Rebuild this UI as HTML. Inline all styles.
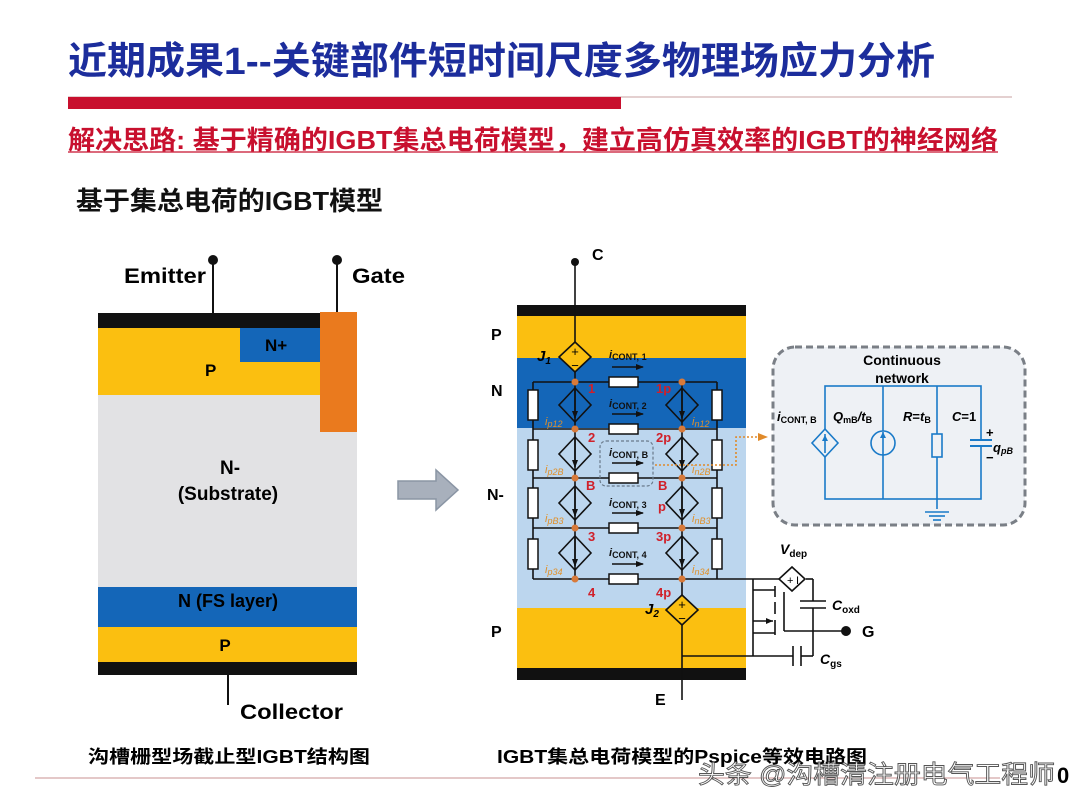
<!DOCTYPE html>
<html><head><meta charset="utf-8"><style>
html,body{margin:0;padding:0;background:#fff;}
svg{display:block;font-family:"Liberation Sans","Noto Sans CJK SC",sans-serif;}
</style></head><body>
<svg width="1080" height="810" viewBox="0 0 1080 810" xmlns="http://www.w3.org/2000/svg">
<defs>
<marker id="ar" markerUnits="userSpaceOnUse" markerWidth="8" markerHeight="8" refX="7" refY="4" orient="auto"><path d="M0,1 L8,4 L0,7 z" fill="#111"/></marker>
<marker id="aro" markerUnits="userSpaceOnUse" markerWidth="10" markerHeight="10" refX="8" refY="5" orient="auto"><path d="M0,1 L10,5 L0,9 z" fill="#e08a2a"/></marker>
</defs>
<!-- title -->
<text x="68" y="74" font-size="38" font-weight="bold" fill="#1c2d9c" textLength="867" lengthAdjust="spacingAndGlyphs">近期成果1--关键部件短时间尺度多物理场应力分析</text>
<line x1="68" y1="97" x2="1012" y2="97" stroke="#c8a0a0" stroke-width="1"/>
<rect x="68" y="97" width="553" height="12" fill="#c8102e"/>
<text x="68" y="149" font-size="26" font-weight="bold" fill="#c8102e" textLength="930" lengthAdjust="spacingAndGlyphs">解决思路: 基于精确的IGBT集总电荷模型，建立高仿真效率的IGBT的神经网络</text>
<line x1="68" y1="152" x2="998" y2="152" stroke="#c8102e" stroke-width="1.2"/>
<text x="76" y="210" font-size="26" font-weight="bold" fill="#111" textLength="307" lengthAdjust="spacingAndGlyphs">基于集总电荷的IGBT模型</text>

<!-- left structure -->
<rect x="98" y="313" width="259" height="15" fill="#111"/>
<rect x="98" y="328" width="259" height="67" fill="#fbbf10"/>
<rect x="240" y="328" width="80" height="34" fill="#1466b8"/>
<rect x="98" y="395" width="259" height="192" fill="#e2e2e4"/>
<rect x="98" y="587" width="259" height="40" fill="#1466b8"/>
<rect x="98" y="627" width="259" height="35" fill="#fbbf10"/>
<rect x="98" y="662" width="259" height="13" fill="#111"/>
<rect x="320" y="312" width="37" height="120" fill="#ea7a1e"/>
<line x1="213" y1="260" x2="213" y2="313" stroke="#111" stroke-width="2"/><circle cx="213" cy="260" r="5" fill="#111"/>
<line x1="337" y1="260" x2="337" y2="312" stroke="#111" stroke-width="2"/><circle cx="337" cy="260" r="5" fill="#111"/>
<line x1="228" y1="675" x2="228" y2="705" stroke="#111" stroke-width="2"/>
<text x="124" y="283" font-size="21" font-weight="bold" textLength="82" lengthAdjust="spacingAndGlyphs">Emitter</text>
<text x="352" y="283" font-size="21" font-weight="bold" textLength="53" lengthAdjust="spacingAndGlyphs">Gate</text>
<text x="265" y="351" font-size="17" font-weight="bold">N+</text>
<text x="205" y="376" font-size="17" font-weight="bold">P</text>
<text x="230" y="474" font-size="19" font-weight="bold" text-anchor="middle">N-</text>
<text x="228" y="500" font-size="19" font-weight="bold" text-anchor="middle">(Substrate)</text>
<text x="228" y="607" font-size="18" font-weight="bold" text-anchor="middle">N (FS layer)</text>
<text x="225" y="651" font-size="17" font-weight="bold" text-anchor="middle">P</text>
<text x="240" y="719" font-size="21" font-weight="bold" textLength="103" lengthAdjust="spacingAndGlyphs">Collector</text>

<!-- arrow -->
<path d="M398,481 L436,481 L436,470 L458,490 L436,510 L436,499 L398,499 z" fill="#a8b0bc" stroke="#8a95a4" stroke-width="1.5"/>

<!-- right structure -->
<rect x="517" y="305" width="229" height="11" fill="#111"/>
<rect x="517" y="316" width="229" height="42" fill="#fbbf10"/>
<rect x="517" y="358" width="229" height="70" fill="#1466b8"/>
<rect x="517" y="428" width="229" height="180" fill="#bcd6ee"/>
<rect x="517" y="608" width="229" height="60" fill="#fbbf10"/>
<rect x="517" y="668" width="229" height="12" fill="#111"/>
<text x="491" y="340" font-size="16" font-weight="bold">P</text>
<text x="491" y="396" font-size="16" font-weight="bold">N</text>
<text x="487" y="500" font-size="16" font-weight="bold">N-</text>
<text x="491" y="637" font-size="16" font-weight="bold">P</text>
<text x="592" y="260" font-size="16" font-weight="bold">C</text>
<text x="655" y="705" font-size="16" font-weight="bold">E</text>
<circle cx="575" cy="262" r="4" fill="#111"/>
<g stroke="#111" stroke-width="1.6" fill="none">
<line x1="575" y1="262" x2="575" y2="342"/>
<line x1="682" y1="625" x2="682" y2="700"/>
<line x1="533" y1="382" x2="717" y2="382"/>
<line x1="533" y1="429" x2="717" y2="429"/>
<line x1="533" y1="478" x2="717" y2="478"/>
<line x1="533" y1="528" x2="717" y2="528"/>
<line x1="533" y1="579" x2="717" y2="579"/>
<line x1="533" y1="382" x2="533" y2="579"/>
<line x1="717" y1="382" x2="717" y2="579"/>
<line x1="575" y1="372" x2="575" y2="579"/>
<line x1="682" y1="382" x2="682" y2="595"/>
</g>
<g fill="#fff" stroke="#111" stroke-width="1.5">
<rect x="528" y="390" width="10" height="30"/><rect x="712" y="390" width="10" height="30"/>
<rect x="528" y="440" width="10" height="30"/><rect x="712" y="440" width="10" height="30"/>
<rect x="528" y="488" width="10" height="30"/><rect x="712" y="488" width="10" height="30"/>
<rect x="528" y="539" width="10" height="30"/><rect x="712" y="539" width="10" height="30"/>
<rect x="609" y="377" width="29" height="10"/><rect x="609" y="424" width="29" height="10"/>
<rect x="609" y="473" width="29" height="10"/><rect x="609" y="523" width="29" height="10"/>
<rect x="609" y="574" width="29" height="10"/>
</g>
<g fill="none" stroke="#111" stroke-width="1.6">
<path d="M575,388 L591,405 L575,422 L559,405 z"/><path d="M682,388 L698,405 L682,422 L666,405 z"/>
<path d="M575,437 L591,454 L575,471 L559,454 z"/><path d="M682,437 L698,454 L682,471 L666,454 z"/>
<path d="M575,486 L591,503 L575,520 L559,503 z"/><path d="M682,486 L698,503 L682,520 L666,503 z"/>
<path d="M575,536 L591,553 L575,570 L559,553 z"/><path d="M682,536 L698,553 L682,570 L666,553 z"/>
</g>
<g stroke="#111" stroke-width="1.6" marker-end="url(#ar)">
<line x1="575" y1="390" x2="575" y2="418"/><line x1="682" y1="390" x2="682" y2="418"/>
<line x1="575" y1="439" x2="575" y2="467"/><line x1="682" y1="439" x2="682" y2="467"/>
<line x1="575" y1="488" x2="575" y2="516"/><line x1="682" y1="488" x2="682" y2="516"/>
<line x1="575" y1="538" x2="575" y2="566"/><line x1="682" y1="538" x2="682" y2="566"/>
<line x1="612" y1="367" x2="643" y2="367"/><line x1="612" y1="414" x2="643" y2="414"/>
<line x1="612" y1="463" x2="643" y2="463"/><line x1="612" y1="513" x2="643" y2="513"/>
<line x1="612" y1="564" x2="643" y2="564"/>
</g>
<path d="M575,342 L591,357 L575,372 L559,357 z" fill="#fbbf10" stroke="#111" stroke-width="1.6"/>
<text x="575" y="356" font-size="13" text-anchor="middle">+</text><text x="575" y="370" font-size="13" text-anchor="middle">−</text>
<path d="M682,595 L698,610 L682,625 L666,610 z" fill="#fbbf10" stroke="#111" stroke-width="1.6"/>
<text x="682" y="609" font-size="13" text-anchor="middle">+</text><text x="682" y="623" font-size="13" text-anchor="middle">−</text>
<text x="537" y="361" font-size="15" font-weight="bold" font-style="italic">J<tspan font-size="10" dy="3">1</tspan></text>
<text x="645" y="614" font-size="15" font-weight="bold" font-style="italic">J<tspan font-size="10" dy="3">2</tspan></text>
<g fill="#d87a3a">
<circle cx="575" cy="382" r="3.5"/><circle cx="682" cy="382" r="3.5"/>
<circle cx="575" cy="429" r="3.5"/><circle cx="682" cy="429" r="3.5"/>
<circle cx="575" cy="478" r="3.5"/><circle cx="682" cy="478" r="3.5"/>
<circle cx="575" cy="528" r="3.5"/><circle cx="682" cy="528" r="3.5"/>
<circle cx="575" cy="579" r="3.5"/><circle cx="682" cy="579" r="3.5"/>
</g>
<g fill="#d0202a" font-size="13" font-weight="bold">
<text x="588" y="393">1</text><text x="656" y="393">1p</text>
<text x="588" y="442">2</text><text x="656" y="442">2p</text>
<text x="586" y="490">B</text><text x="658" y="490">B</text>
<text x="658" y="511">p</text>
<text x="588" y="541">3</text><text x="656" y="541">3p</text>
<text x="588" y="597">4</text><text x="656" y="597">4p</text>
</g>
<g fill="#e0902a" font-size="11" font-style="italic">
<text x="545" y="425">i<tspan font-size="9" dy="2">p12</tspan></text><text x="692" y="425">i<tspan font-size="9" dy="2">n12</tspan></text>
<text x="545" y="473">i<tspan font-size="9" dy="2">p2B</tspan></text><text x="692" y="473">i<tspan font-size="9" dy="2">n2B</tspan></text>
<text x="545" y="522">i<tspan font-size="9" dy="2">pB3</tspan></text><text x="692" y="522">i<tspan font-size="9" dy="2">nB3</tspan></text>
<text x="545" y="573">i<tspan font-size="9" dy="2">p34</tspan></text><text x="692" y="573">i<tspan font-size="9" dy="2">n34</tspan></text>
</g>
<g font-size="11" font-weight="bold" fill="#111">
<text x="609" y="358"><tspan font-style="italic">i</tspan><tspan font-size="9" dy="2">CONT, 1</tspan></text>
<text x="609" y="407"><tspan font-style="italic">i</tspan><tspan font-size="9" dy="2">CONT, 2</tspan></text>
<text x="609" y="456"><tspan font-style="italic">i</tspan><tspan font-size="9" dy="2">CONT, B</tspan></text>
<text x="609" y="506"><tspan font-style="italic">i</tspan><tspan font-size="9" dy="2">CONT, 3</tspan></text>
<text x="609" y="556"><tspan font-style="italic">i</tspan><tspan font-size="9" dy="2">CONT, 4</tspan></text>
</g>
<rect x="600" y="441" width="53" height="45" rx="6" fill="none" stroke="#6a7a8a" stroke-width="1.2" stroke-dasharray="3,2"/>
<path d="M655,465 L736,465 L736,437 L766,437" fill="none" stroke="#e08a2a" stroke-width="1.6" stroke-dasharray="2,2" marker-end="url(#aro)"/>

<!-- continuous network box -->
<rect x="773" y="347" width="252" height="178" rx="22" fill="#eef1f5" stroke="#7a7f86" stroke-width="3" stroke-dasharray="7,4"/>
<text x="902" y="365" font-size="14" font-weight="bold" text-anchor="middle">Continuous</text>
<text x="902" y="383" font-size="14" font-weight="bold" text-anchor="middle">network</text>
<g stroke="#1a7ac8" stroke-width="1.6" fill="none">
<rect x="825" y="386" width="156" height="113"/>
<line x1="883" y1="386" x2="883" y2="499"/>
<line x1="937" y1="386" x2="937" y2="509"/>
<path d="M825,429 L838,443 L825,457 L812,443 z" fill="#eef1f5"/>
<line x1="825" y1="453" x2="825" y2="434"/>
<circle cx="883" cy="443" r="12" fill="#eef1f5"/>
<line x1="883" y1="455" x2="883" y2="432"/>
<rect x="932" y="434" width="10" height="23" fill="#eef1f5"/>
<line x1="970" y1="440" x2="992" y2="440" stroke-width="2"/>
<line x1="970" y1="446" x2="992" y2="446" stroke-width="2"/>
<rect x="973" y="441" width="16" height="4" fill="#eef1f5" stroke="none"/>
<line x1="925" y1="512" x2="949" y2="512"/><line x1="929" y1="516" x2="945" y2="516"/><line x1="933" y1="520" x2="941" y2="520"/>
</g>
<path d="M822,441 L825,435 L828,441 z" fill="#1a7ac8"/><path d="M880,438 L883,432 L886,438 z" fill="#1a7ac8"/>
<g font-size="13" font-weight="bold">
<text x="777" y="421"><tspan font-style="italic">i</tspan><tspan font-size="9" dy="2">CONT, B</tspan></text>
<text x="833" y="421"><tspan font-style="italic">Q</tspan><tspan font-size="9" dy="2">mB</tspan><tspan dy="-2" font-style="italic">/t</tspan><tspan font-size="9" dy="2">B</tspan></text>
<text x="903" y="421"><tspan font-style="italic">R</tspan>=<tspan font-style="italic">t</tspan><tspan font-size="9" dy="2">B</tspan></text>
<text x="952" y="421"><tspan font-style="italic">C</tspan>=1</text>
<text x="986" y="437" font-size="13">+</text>
<text x="993" y="452" font-style="italic">q<tspan font-size="9" dy="2">pB</tspan></text>
<text x="986" y="462" font-size="13">−</text>
</g>

<!-- gate network -->
<g stroke="#111" stroke-width="1.6" fill="none">
<line x1="717" y1="579" x2="780" y2="579"/>
<line x1="753" y1="579" x2="753" y2="656"/>
<line x1="753" y1="590" x2="775" y2="590"/>
<line x1="753" y1="621" x2="773" y2="621"/>
<line x1="753" y1="633" x2="775" y2="633"/>
<line x1="682" y1="656" x2="793" y2="656"/>
<line x1="775" y1="586" x2="775" y2="597"/><line x1="775" y1="602" x2="775" y2="614"/><line x1="775" y1="620" x2="775" y2="635"/>
<line x1="784" y1="592" x2="784" y2="631"/>
<line x1="784" y1="631" x2="846" y2="631"/>
<line x1="806" y1="579" x2="813" y2="579"/>
<line x1="813" y1="579" x2="813" y2="601"/>
<line x1="800" y1="601" x2="826" y2="601"/><line x1="800" y1="608" x2="826" y2="608"/>
<line x1="813" y1="608" x2="813" y2="656"/>
<line x1="793" y1="646" x2="793" y2="666"/><line x1="801" y1="646" x2="801" y2="666"/>
<line x1="801" y1="656" x2="813" y2="656"/>
<path d="M792,567 L805,579 L792,591 L779,579 z" fill="#fff"/>
</g>
<path d="M766,618 L773,621 L766,624 z" fill="#111"/>
<text x="787" y="584" font-size="11">+</text><text x="796" y="584" font-size="11">I</text>
<circle cx="846" cy="631" r="5" fill="#111"/>
<text x="862" y="637" font-size="16" font-weight="bold">G</text>
<text x="780" y="554" font-size="14" font-weight="bold" font-style="italic">V<tspan font-size="10" font-style="normal" dy="3">dep</tspan></text>
<text x="832" y="610" font-size="14" font-weight="bold" font-style="italic">C<tspan font-size="10" font-style="normal" dy="3">oxd</tspan></text>
<text x="820" y="664" font-size="14" font-weight="bold" font-style="italic">C<tspan font-size="10" font-style="normal" dy="3">gs</tspan></text>

<!-- captions -->
<line x1="35" y1="778" x2="1000" y2="778" stroke="#c89090" stroke-width="1"/>
<text x="88" y="763" font-size="18" font-weight="bold" textLength="282" lengthAdjust="spacingAndGlyphs">沟槽栅型场截止型IGBT结构图</text>
<text x="497" y="763" font-size="18" font-weight="bold" textLength="370" lengthAdjust="spacingAndGlyphs">IGBT集总电荷模型的Pspice等效电路图</text>
<text x="698" y="783" font-size="25" fill="#fff" stroke="#444" stroke-width="0.9" opacity="0.9" textLength="357" lengthAdjust="spacingAndGlyphs">头条 @沟槽清注册电气工程师</text>
<text x="1057" y="783" font-size="22" font-weight="bold">0</text>
</svg>
</body></html>
